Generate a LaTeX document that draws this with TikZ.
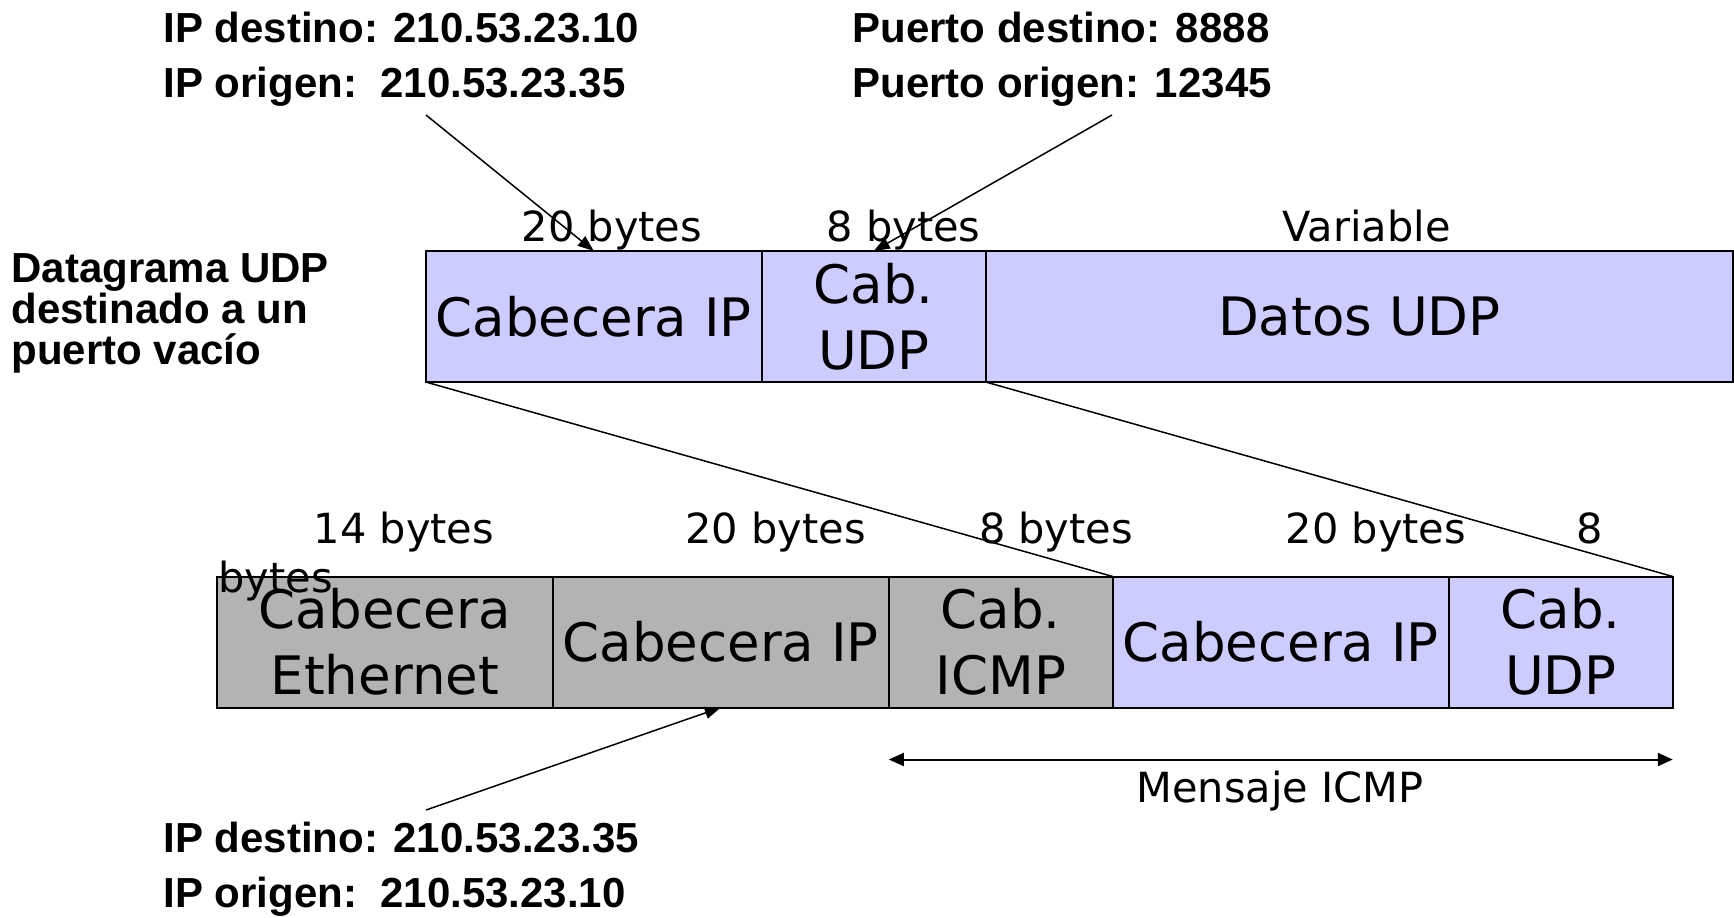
\documentclass[tikz,border=0pt]{standalone}
\usepackage{fontspec}
\setmainfont{DejaVu Sans}
\newfontfamily\etiqfont{Liberation Sans}
\usetikzlibrary{arrows.meta,positioning}

\definecolor{udpcolor}{RGB}{204,204,255}
\definecolor{ethcolor}{RGB}{179,179,179}

\newcommand{\apretado}{\lineskiplimit=-10pt\relax}

\tikzset{
  campo/.style={shape=rectangle, draw=black, line width=1pt, inner sep=0pt, outer sep=0pt,
    minimum height=65.5pt, align=center, font=\fontsize{26.5}{33}\selectfont},
  largo/.style={campo, minimum width=168pt},
  corto/.style={campo, minimum width=112pt},
  tam/.style={anchor=base, inner sep=0pt, font=\fontsize{20.75}{25}\selectfont},
  nota/.style={anchor=north west, inner sep=0pt, align=left,
    font=\etiqfont\bfseries\fontsize{21}{27.8}\selectfont},
  flecha/.style={-{Triangle[length=8pt,width=6pt]}, line width=0.75pt},
  doble/.style={{Triangle[length=7.5pt,width=6.5pt]}-{Triangle[length=7.5pt,width=6.5pt]}, line width=1pt}
}

\begin{document}
\begin{tikzpicture}[x=0.5pt, y=-0.5pt]
    \useasboundingbox (0,0) rectangle (1734,917);

    % datagrama UDP
    \node[largo, fill=udpcolor, anchor=north west] (ipA) at (425.8,251) {Cabecera IP};
    \node[corto, fill=udpcolor, right=0pt of ipA] (udpA) {Cab.\\UDP};
    \node[campo, fill=udpcolor, minimum width=373.6pt, right=0pt of udpA] (datA) {Datos UDP};

    % trama con el mensaje ICMP
    \node[largo, fill=ethcolor, anchor=north west] (ethB) at (216.8,576.5) {Cabecera\\Ethernet};
    \node[largo, fill=ethcolor, right=0pt of ethB] (ipB) {Cabecera IP};
    \node[corto, fill=ethcolor, right=0pt of ipB] (icmpB) {Cab.\\ICMP};
    \node[largo, fill=udpcolor, right=0pt of icmpB] (ipC) {Cabecera IP};
    \node[corto, fill=udpcolor, right=0pt of ipC] (udpC) {Cab.\\UDP};

    % tamanos
    \node[tam] (tamA) at (612,241) {20 bytes};
    \node[tam] (tamB) at (903.6,241) {8 bytes};
    \node[tam] (tamC) at (1366.5,241) {Variable};
    \node[tam] (tamD) at (404,543) {14 bytes};
    \node[tam] (tamE) at (775.6,543) {20 bytes};
    \node[tam] (tamF) at (1056,543) {8 bytes};
    \node[tam] (tamG) at (1376,543) {20 bytes};
    \node[tam] (tamH) at (1590,543) {8};
    \node[tam, anchor=base west] (tamI) at (218,592) {bytes};

    % notas
    \node[nota] (notaA) at (163,11.5) {IP destino: 210.53.23.10\\IP origen:\ \ 210.53.23.35};
    \node[nota] (notaB) at (852,11.5) {Puerto destino: 8888\\Puerto origen: 12345};
    \node[nota, font={\etiqfont\bfseries\fontsize{21}{20.5}\selectfont\apretado}] (notaC) at (11,253.5)
        {Datagrama UDP\\destinado a un\\puerto vacío};
    \node[nota] (notaD) at (163,821.5) {IP destino: 210.53.23.35\\IP origen:\ \ 210.53.23.10};

    \coordinate (srcA) at (426,115);
    \coordinate (srcB) at (1112,115);
    \coordinate (srcC) at (426,810);

    \draw[line width=0.75pt] (ipA.south west) -- (ipC.north west);
    \draw[line width=0.75pt] (udpA.south east) -- (udpC.north east);

    \draw[flecha] (srcA) -- (ipA.north);
    \draw[flecha] (srcB) -- (udpA.north);
    \draw[flecha] (srcC) -- (ipB.south);

    \draw[doble] ([yshift=-26pt]icmpB.south west) -- ([yshift=-26pt]udpC.south east);
    \node[tam] (msg) at (1280,802) {Mensaje ICMP};

\end{tikzpicture}
\end{document}
